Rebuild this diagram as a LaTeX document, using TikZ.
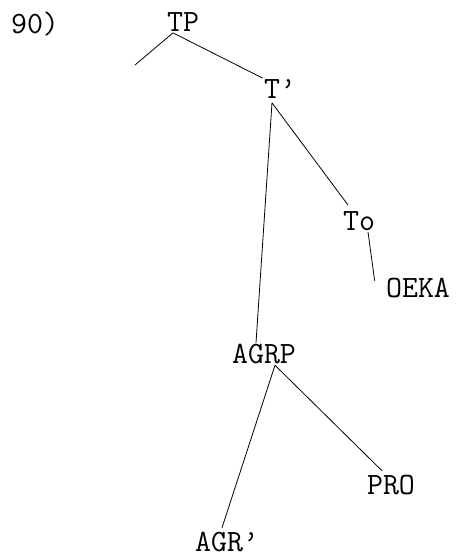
\documentclass[tikz,border=0pt]{standalone}
\usepackage{fontspec}
\usepackage{tikz}
\usetikzlibrary{positioning}

\tikzset{lbl/.style={font=\ttfamily\fontsize{31}{33}\selectfont, inner sep=1pt}}

\begin{document}
\begin{tikzpicture}[x=1pt, y=1pt, line width=0.8pt]
\useasboundingbox (0,0) rectangle (456,560);
\node[lbl] (num) at (35,536) {90)};
\node[lbl] (TP) at (183,538) {TP};
\node[lbl] (Tbar) at (280,471) {T\textquoteright};
\node[lbl] (To) at (359,339) {To};
\node[lbl] (oeka) at (418,272) {OEKA};
\node[lbl] (AgrP) at (264,206) {AGRP};
\node[lbl] (pro) at (391,75) {PRO};
\node[lbl] (Agrbar) at (227,18) {AGR\textquoteright};
\coordinate (spec) at (135,495);
\draw ([xshift=-10pt]TP.south) -- (spec);
\draw ([xshift=-10pt]TP.south) -- (Tbar.north west);
\draw ([xshift=-8pt,yshift=-3pt]Tbar.south) -- ([xshift=-8pt]AgrP.north);
\draw ([xshift=-8pt,yshift=-3pt]Tbar.south) -- ([xshift=-11pt,yshift=5pt]To.north);
\draw ([xshift=9pt]To.south) -- ([xshift=-10pt,yshift=-4pt]oeka.north west);
\draw ([xshift=11pt]AgrP.south) -- ([xshift=-5pt,yshift=3pt]Agrbar.north);
\draw ([xshift=11pt]AgrP.south) -- ([xshift=-9pt,yshift=3pt]pro.north);
\end{tikzpicture}
\end{document}
